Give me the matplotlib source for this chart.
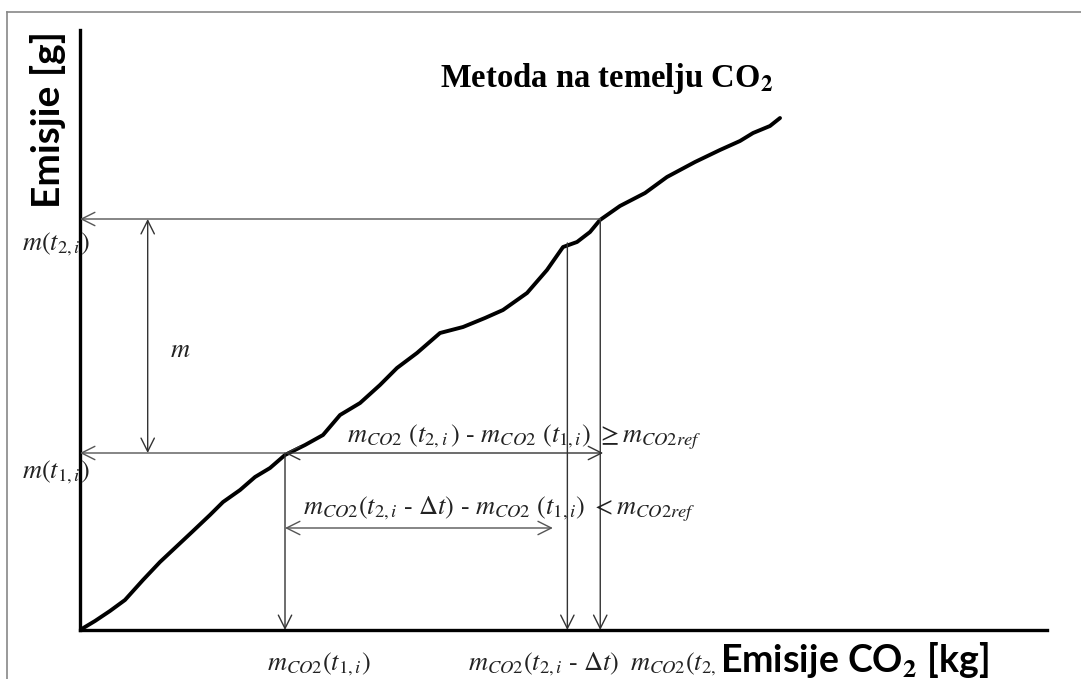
import matplotlib
matplotlib.use("Agg")
import matplotlib.pyplot as plt
from matplotlib.lines import Line2D

plt.rcParams['mathtext.fontset'] = 'stix'

# cumulative CO2 (x, 0..100 of axis) vs cumulative emissions (y, 0..100 of axis)
co2 = [0, 1.55, 3.10, 4.65, 6.51, 8.27, 9.82, 11.58, 13.44, 14.79, 16.55,
       18.10, 19.65, 21.20, 23.27, 25.13, 26.89, 28.96, 31.02, 32.78, 34.85,
       37.23, 39.61, 41.88, 43.74, 46.23, 48.29, 49.95, 51.40, 52.74, 53.77,
       55.84, 58.43, 60.70, 63.60, 66.18, 68.25, 69.60, 71.35, 72.39]
emis = [0, 1.5, 3.17, 5.0, 8.33, 11.33, 13.67, 16.33, 19.17, 21.33, 23.33,
        25.5, 27.0, 29.17, 30.83, 32.5, 35.83, 37.83, 40.83, 43.67, 46.17,
        49.5, 50.5, 52.0, 53.33, 56.17, 60.0, 63.83, 64.67, 66.33, 68.33,
        70.67, 72.83, 75.5, 78.0, 80.0, 81.5, 82.83, 84.0, 85.33]

# characteristic points on the curve
t1 = (21.2, 29.5)
t2 = (53.8, 68.5)
t2_dt = (50.4, 64.5)
m_arrow_x = 7.0
dt_arrow = (17.0, 48.9)   # y level, right end

fig = plt.figure(figsize=(10.81, 6.79), dpi=100)
ax = fig.add_axes([80 / 1081, 49 / 679, 967 / 1081, 600 / 679])
ax.set_xlim(0, 100)
ax.set_ylim(0, 100)
for s in ['top', 'right']:
    ax.spines[s].set_visible(False)
for s in ['left', 'bottom']:
    ax.spines[s].set_linewidth(2.4)
ax.set_xticks([])
ax.set_yticks([])
ax.patch.set_alpha(0)

# outer frame
fig.add_artist(Line2D([7 / 1081, 7 / 1081], [0, 667 / 679],
                      transform=fig.transFigure, color='#888888', lw=1.2))
fig.add_artist(Line2D([7 / 1081, 1], [667 / 679, 667 / 679],
                      transform=fig.transFigure, color='#888888', lw=1.2))

ax.plot(co2, emis, color='black', lw=2.8, solid_capstyle='round',
        solid_joinstyle='round', zorder=3)

arr = dict(lw=1.0, color='#333333', shrinkA=0, shrinkB=0, mutation_scale=24)


def arrow(p_from, p_to, style='->', color='#333333'):
    ax.annotate('', xy=p_to, xytext=p_from,
                arrowprops=dict(arr, arrowstyle=style, color=color),
                annotation_clip=False)


# horizontal projections onto the y axis
arrow(t2, (0, t2[1]), color='#555555')
arrow(t1, (0, t1[1]), color='#555555')
# m
arrow((m_arrow_x, t1[1]), (m_arrow_x, t2[1]), '<->')
# vertical projections onto the x axis
arrow(t1, (t1[0], 0))
arrow(t2_dt, (t2_dt[0], 0))
arrow(t2, (t2[0], 0))
# differences
arrow(t1, (t2[0] + 0.3, t1[1]), '<->')
arrow((t1[0], dt_arrow[0]), (dt_arrow[1], dt_arrow[0]), '<->', '#555555')

tkw = dict(fontsize=19, color='#222222', clip_on=False)
ax.text(-6.0, 63.3, r'$m(t_{2,i})$', va='baseline', **tkw)
ax.text(-6.0, 25.3, r'$m(t_{1,i})$', va='baseline', **tkw)
ax.text(9.3, 46.7, r'$m$', va='center', **tkw)
ax.text(27.6, 31.2, r'$m_{CO2}\ (t_{2,i}\,)\ \text{-}\ m_{CO2}\ (t_{1,i})\ \geq m_{CO2ref}$',
        va='baseline', **tkw)
ax.text(23.1, 19.2, r'$m_{CO2}(t_{2,i}\ \text{-}\ \Delta t)\ \text{-}\ m_{CO2}\ (t_{1,i})\ < m_{CO2ref}$',
        va='baseline', **tkw)
ax.text(19.3, -6.6, r'$m_{CO2}(t_{1,i})$', va='baseline', **tkw)
ax.text(40.1, -6.6, r'$m_{CO2}(t_{2,i}\ \text{-}\ \Delta t)$', va='baseline', **tkw)
ax.text(56.9, -6.6, r'$m_{CO2}(t_{2,i})$', va='baseline', **tkw)

ax.text(54.5, 92, r'Metoda na temelju CO$_\mathbf{2}$', ha='center', va='center',
        fontsize=23.5, fontweight='bold', family='Liberation Serif')

ax.text(66.2, -7.0, r'Emisije CO$_\mathbf{2}$ [kg]', va='baseline', ha='left',
        fontsize=27, fontweight='bold', family='Lato', clip_on=False, zorder=5,
        bbox=dict(facecolor='white', edgecolor='none', pad=0.5))
ax.text(-3.3, 85, 'Emisjie [g]', rotation=90, ha='center', va='center',
        fontsize=28, fontweight='bold', family='Lato', clip_on=False)

fig.savefig('out.png', dpi=100, facecolor='white')
